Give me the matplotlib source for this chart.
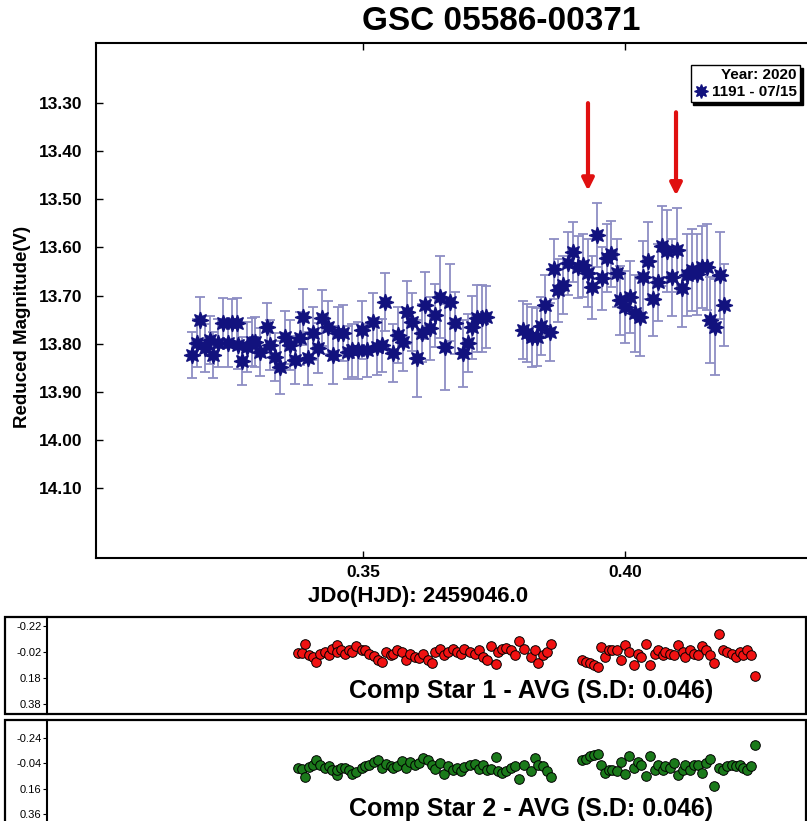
import matplotlib
matplotlib.use('Agg')
import matplotlib.pyplot as plt
from matplotlib.lines import Line2D
from matplotlib.patches import Rectangle

plt.rcParams['font.family'] = ['Liberation Sans', 'DejaVu Sans']

# ---------------- data ----------------
jd_seg1 = [0.3174, 0.3183, 0.3189, 0.3198, 0.3208, 0.3214, 0.3223, 0.3233, 0.3242, 0.3250,
           0.3260, 0.3261, 0.3269, 0.3279, 0.3288, 0.3294, 0.3303, 0.3317, 0.3323, 0.3332,
           0.3342, 0.3351, 0.3361, 0.3370, 0.3380, 0.3385, 0.3395, 0.3405, 0.3414, 0.3422,
           0.3433, 0.3443, 0.3452, 0.3462, 0.3471, 0.3479, 0.3490, 0.3498, 0.3508, 0.3519,
           0.3527, 0.3536, 0.3542, 0.3557, 0.3567, 0.3576, 0.3584, 0.3594, 0.3603, 0.3613,
           0.3618, 0.3628, 0.3637, 0.3647, 0.3656, 0.3666, 0.3676, 0.3691, 0.3700, 0.3708,
           0.3718, 0.3727, 0.3735]
mag_seg1 = [13.824, 13.799, 13.751, 13.809, 13.793, 13.824, 13.799, 13.757, 13.799, 13.757,
            13.757, 13.803, 13.836, 13.807, 13.797, 13.797, 13.818, 13.766, 13.803, 13.828,
            13.849, 13.787, 13.803, 13.834, 13.789, 13.745, 13.830, 13.778, 13.809, 13.747,
            13.766, 13.824, 13.778, 13.778, 13.818, 13.814, 13.814, 13.772, 13.814, 13.755,
            13.807, 13.803, 13.714, 13.820, 13.782, 13.797, 13.735, 13.755, 13.830, 13.778,
            13.720, 13.768, 13.741, 13.703, 13.807, 13.714, 13.757, 13.820, 13.799, 13.766,
            13.747, 13.747, 13.745]
err_seg1 = [0.048, 0.050, 0.048, 0.050, 0.050, 0.048, 0.050, 0.052, 0.050, 0.050,
            0.052, 0.050, 0.050, 0.052, 0.050, 0.052, 0.050, 0.050, 0.052, 0.050,
            0.055, 0.055, 0.052, 0.050, 0.055, 0.058, 0.055, 0.055, 0.052, 0.058,
            0.055, 0.060, 0.055, 0.058, 0.055, 0.055, 0.060, 0.060, 0.055, 0.060,
            0.058, 0.055, 0.060, 0.060, 0.058, 0.060, 0.065, 0.060, 0.080, 0.060,
            0.070, 0.065, 0.065, 0.085, 0.090, 0.080, 0.065, 0.070, 0.060, 0.065,
            0.070, 0.070, 0.065]

jd_seg2 = [0.3805, 0.3813, 0.3823, 0.3832, 0.3840, 0.3847, 0.3857, 0.3864, 0.3872, 0.3882,
           0.3891, 0.3901, 0.3910, 0.3920, 0.3929, 0.3937, 0.3947, 0.3956, 0.3966, 0.3973,
           0.3985, 0.3990, 0.4000, 0.4010, 0.4019, 0.4029, 0.4034, 0.4044, 0.4053, 0.4063,
           0.4071, 0.4080, 0.4090, 0.4099, 0.4109, 0.4118, 0.4128, 0.4137, 0.4147, 0.4156,
           0.4162, 0.4172, 0.4181, 0.4189]
mag_seg2 = [13.772, 13.778, 13.786, 13.786, 13.764, 13.720, 13.776, 13.645, 13.689, 13.678,
            13.633, 13.610, 13.641, 13.637, 13.653, 13.683, 13.574, 13.664, 13.622, 13.614,
            13.653, 13.710, 13.724, 13.703, 13.737, 13.745, 13.662, 13.628, 13.707, 13.672,
            13.597, 13.608, 13.662, 13.606, 13.685, 13.658, 13.647, 13.656, 13.641, 13.641,
            13.751, 13.766, 13.658, 13.720]
err_seg2 = [0.060, 0.060, 0.062, 0.060, 0.060, 0.062, 0.060, 0.062, 0.065, 0.060,
            0.065, 0.062, 0.065, 0.065, 0.070, 0.065, 0.067, 0.065, 0.070, 0.068,
            0.070, 0.072, 0.075, 0.075, 0.080, 0.080, 0.075, 0.080, 0.078, 0.080,
            0.083, 0.085, 0.080, 0.087, 0.080, 0.085, 0.085, 0.085, 0.085, 0.090,
            0.090, 0.100, 0.090, 0.085]

comp1 = [-0.013, -0.013, -0.083, 0.005, 0.018, 0.055, -0.008, -0.020, 0.005, -0.045,
         -0.070, -0.020, -0.033, -0.008, -0.033, -0.020, -0.063, -0.038, -0.033, -0.008,
         0.013, 0.038, 0.055, -0.020, 0.005, -0.008, -0.033, -0.020, 0.043, -0.008,
         0.018, 0.030, -0.008, 0.043, 0.068, -0.020, -0.045, 0.005, -0.020, -0.045,
         -0.020, -0.008, -0.045, -0.020, -0.008, -0.038, 0.018, 0.043, -0.063, 0.075,
         -0.020, -0.045, -0.053, -0.033, 0.005, -0.103, -0.045, 0.018, -0.033, 0.068,
         0.005, -0.020, -0.083,
         0.043, 0.055, 0.068, 0.080, 0.093, -0.058, 0.018, -0.033, -0.033, -0.038,
         0.043, -0.070, -0.020, 0.080, -0.008, 0.018, -0.078, 0.080, -0.008, -0.033,
         0.005, -0.020, -0.008, 0.005, -0.070, -0.020, 0.018, -0.033, -0.008, 0.005,
         -0.063, -0.033, 0.005, 0.063, -0.158, -0.033, -0.020, -0.008, 0.018, -0.020,
         0.005, -0.038, 0.005, 0.168]
comp2 = [-0.003, 0.003, 0.068, -0.008, -0.028, -0.070, -0.023, -0.003, -0.015, 0.010,
         0.055, 0.010, -0.003, -0.003, 0.010, 0.048, 0.028, -0.003, -0.015, -0.028,
         -0.053, -0.070, -0.003, -0.033, -0.015, -0.003, -0.015, -0.060, -0.003, -0.053,
         -0.023, -0.040, -0.083, -0.065, -0.028, 0.003, -0.040, 0.043, -0.015, 0.010,
         -0.003, 0.023, -0.008, -0.023, -0.033, 0.003, -0.028, 0.010, 0.003, -0.090,
         0.023, 0.035, 0.023, -0.003, -0.015, 0.085, -0.028, 0.023, -0.083, -0.028,
         -0.015, 0.018, 0.068,
         -0.065, -0.078, -0.098, -0.108, -0.115, -0.028, 0.035, 0.010, 0.010, 0.018,
         -0.053, 0.048, -0.098, -0.003, -0.053, -0.028, 0.060, -0.098, 0.010, -0.028,
         0.010, -0.015, -0.003, -0.040, 0.055, 0.010, -0.023, 0.010, -0.028, -0.028,
         0.035, -0.040, -0.078, 0.140, -0.003, 0.010, -0.015, -0.028, -0.015, -0.028,
         -0.003, 0.010, -0.015, -0.183]

main_xticks = [0.35, 0.40]
main_yticks = [13.30, 13.40, 13.50, 13.60, 13.70, 13.80, 13.90, 14.00, 14.10]
comp1_yticks = [-0.22, -0.02, 0.18, 0.38]
comp2_yticks = [-0.24, -0.04, 0.16, 0.36]
arrow_x = [0.3929, 0.4097]
arrow_tail = [13.300, 13.319]
arrow_head = [13.482, 13.492]

title_text = 'GSC 05586-00371'
legend_title = 'Year: 2020'
legend_label = '1191 - 07/15'
comp1_label = 'Comp Star 1 - AVG (S.D: 0.046)'
comp2_label = 'Comp Star 2 - AVG (S.D: 0.046)'

# ---------------- figure ----------------
W, H = 807, 821
fig = plt.figure(figsize=(W / 100, H / 100), dpi=100)

def fx(px):
    return px / W

def fy(py):
    return 1 - py / H

navy = '#12127e'
errc = '#8e8ec4'

ax = fig.add_axes([fx(96), fy(558), fx(807) - fx(96), fy(43) - fy(558)])
jd_all = jd_seg1 + jd_seg2
mag_all = mag_seg1 + mag_seg2
err_all = err_seg1 + err_seg2
ax.errorbar(jd_all, mag_all, yerr=err_all, fmt='none', ecolor=errc,
            elinewidth=1.3, capsize=3.5, capthick=1.3, zorder=2)
ax.plot(jd_all, mag_all, linestyle='none', marker=(8, 1, 0), markersize=12,
        color=navy, markeredgecolor=navy, markeredgewidth=1.0, zorder=3)

ax.set_xlim(0.2990, 0.4347)
ax.set_ylim(14.2455, 13.175)
ax.set_xticks(main_xticks)
ax.set_xticklabels(['%.2f' % v for v in main_xticks])
ax.set_yticks(main_yticks)
ax.set_yticklabels(['%.2f' % v for v in main_yticks])
ax.tick_params(axis='both', direction='in', length=5, width=1, top=True,
               labelsize=12.5)
ax.tick_params(axis='y', pad=10)
ax.tick_params(axis='x', pad=5)
for lab in ax.get_xticklabels() + ax.get_yticklabels():
    lab.set_fontweight('bold')
ax.spines['right'].set_visible(False)
for s in ['left', 'top', 'bottom']:
    ax.spines[s].set_linewidth(1.5)

ax.set_xlabel('JDo(HJD): 2459046.0', fontsize=16, fontweight='bold')
ax.xaxis.set_label_coords((418 - 96) / 711, (558 - 586) / 515)
ax.set_ylabel('Reduced Magnitude(V)', fontsize=13.5, fontweight='bold')
ax.yaxis.set_label_coords((31 - 96) / 711, (558 - 327) / 515)
fig.text(fx(501), fy(22), title_text, ha='center', va='center',
         fontsize=24, fontweight='bold')

for x, t, h in zip(arrow_x, arrow_tail, arrow_head):
    ax.annotate('', xy=(x, h), xytext=(x, t),
                arrowprops=dict(arrowstyle='-|>,head_length=0.7,head_width=0.35',
                                color='#e01010', lw=3, shrinkA=0, shrinkB=0))

handle = Line2D([], [], linestyle='none', marker=(8, 1, 0), markersize=10,
                color=navy, markeredgecolor=navy)
leg = ax.legend([handle], [legend_label], title=legend_title, loc='upper right',
                bbox_to_anchor=(0.99, 0.957), frameon=True, fancybox=False,
                shadow={'color': 'black', 'alpha': 1}, alignment='right',
                prop={'weight': 'bold', 'size': 11}, handlelength=0.9,
                handletextpad=0.3, borderpad=0.2, borderaxespad=0,
                labelspacing=0.2)
leg.get_title().set_fontweight('bold')
leg.get_title().set_fontsize(11)
leg.get_frame().set_edgecolor('black')
leg.get_frame().set_linewidth(1.0)

# ---------------- comparison star panels ----------------
bot_xlim = (0.26165, 0.43024)

def comp_panel(top_px, bot_px, box_bot_px, ylim, yticks, values, color, label, label_py):
    fig.add_artist(Rectangle((fx(5), fy(box_bot_px)), fx(806) - fx(5),
                             fy(top_px) - fy(box_bot_px), transform=fig.transFigure,
                             fill=False, edgecolor='black', linewidth=1.6))
    a = fig.add_axes([fx(47), fy(bot_px), fx(806) - fx(47), fy(top_px) - fy(bot_px)])
    a.patch.set_alpha(0)
    a.scatter(jd_all, values, s=48, c=color, edgecolors='black', linewidths=0.7,
              marker='o', zorder=3)
    a.set_xlim(*bot_xlim)
    a.set_ylim(*ylim)
    a.set_yticks(yticks)
    a.set_yticklabels(['%.2f' % v for v in yticks])
    a.set_xticks([])
    a.tick_params(axis='y', direction='out', length=3, width=0.8, labelsize=8,
                  pad=1, colors='black')
    for s in ['top', 'right', 'bottom']:
        a.spines[s].set_visible(False)
    a.spines['left'].set_linewidth(1.5)
    fig.text(fx(531), fy(label_py), label, ha='center', va='center',
             fontsize=18, fontweight='bold')
    return a

comp_panel(617, 714, 714, (0.457, -0.289), comp1_yticks, comp1, '#f01212',
           comp1_label, 691)
comp_panel(720, 821, 830, (0.4153, -0.382), comp2_yticks, comp2, '#1b7a1b',
           comp2_label, 809)

fig.savefig('out.png', dpi=100)
